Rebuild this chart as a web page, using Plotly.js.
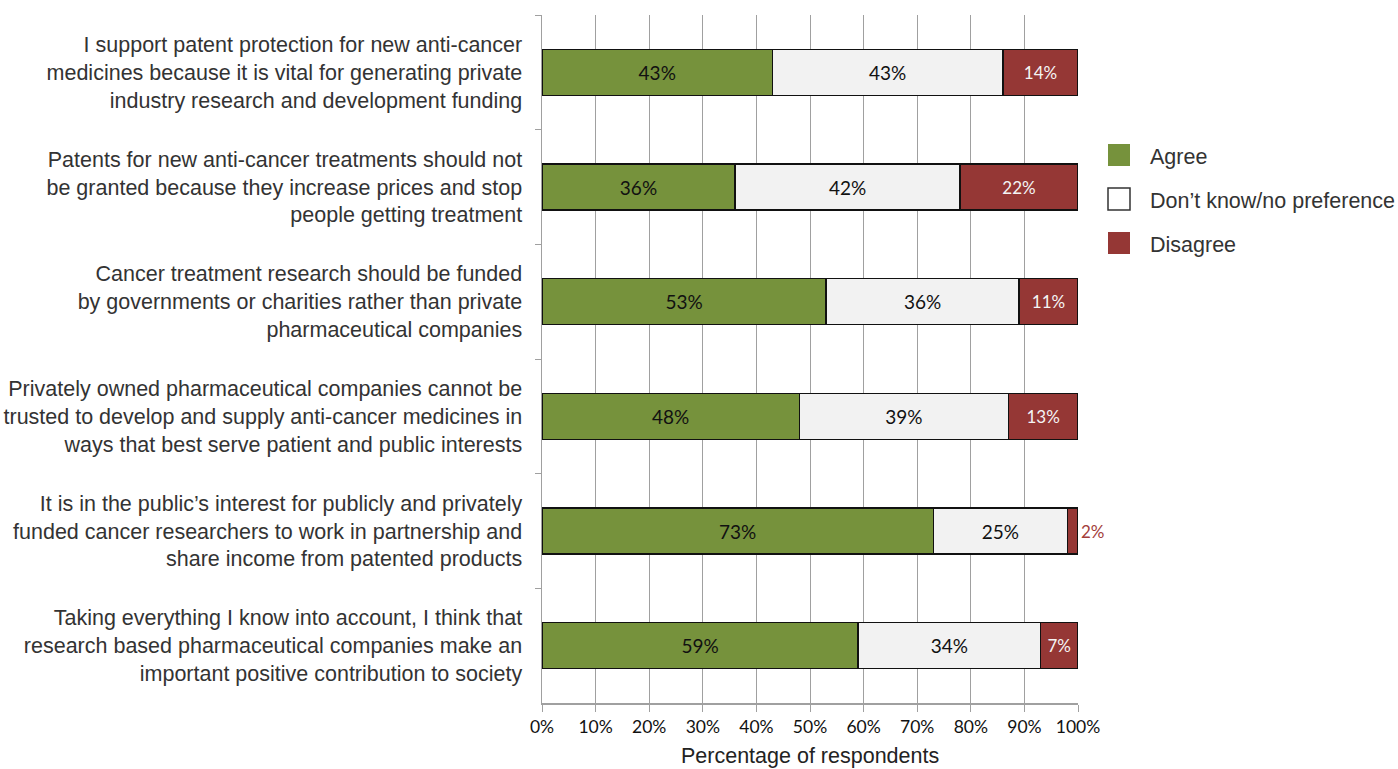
<!DOCTYPE html>
<html><head><meta charset="utf-8">
<script src="https://cdn.plot.ly/plotly-3.0.1.min.js"></script>
<style>body{margin:0;background:#fff}#c{width:1398px;height:769px}</style>
</head><body><div id="c"></div>
<script>
const categories = [
  "I support patent protection for new anti-cancer<br>medicines because it is vital for generating private<br>industry research and development funding",
  "Patents for new anti-cancer treatments should not<br>be granted because they increase prices and stop<br>people getting treatment",
  "Cancer treatment research should be funded<br>by governments or charities rather than private<br>pharmaceutical companies",
  "Privately owned pharmaceutical companies cannot be<br>trusted to develop and supply anti-cancer medicines in<br>ways that best serve patient and public interests",
  "It is in the public\u2019s interest for publicly and privately<br>funded cancer researchers to work in partnership and<br>share income from patented products",
  "Taking everything I know into account, I think that<br>research based pharmaceutical companies make an<br>important positive contribution to society"
];
const agree = [43, 36, 53, 48, 73, 59];
const dontKnow = [43, 42, 36, 39, 25, 34];
const disagree = [14, 22, 11, 13, 2, 7];
const seriesNames = ["Agree", "Don\u2019t know/no preference", "Disagree"];
const xTicks = [0,10,20,30,40,50,60,70,80,90,100];
const xTickLabels = xTicks.map(v => v + "%");
const xTitle = "Percentage of respondents";

const colors = ["#76923C", "#F2F2F2", "#953735"];
const numFont = "Lato, 'Open Sans', sans-serif";
const txtFont = "'Liberation Sans', Arial, sans-serif";
const line = {color: "#111", width: 1.5};

const traces = [
  {type:"bar", orientation:"h", name:seriesNames[0], y:categories, x:agree,
   marker:{color:colors[0], line:line}, text:agree.map(v=>v+"%"), textposition:"inside",
   insidetextanchor:"middle", constraintext:"none", textfont:{family:numFont,size:19,color:"#111"},
   hoverinfo:"skip", showlegend:false, cliponaxis:false},
  {type:"bar", orientation:"h", name:seriesNames[1], y:categories, x:dontKnow,
   marker:{color:colors[1], line:line}, text:dontKnow.map(v=>v+"%"), textposition:"inside",
   insidetextanchor:"middle", constraintext:"none", textfont:{family:numFont,size:19,color:"#111"},
   hoverinfo:"skip", showlegend:false, cliponaxis:false},
  {type:"bar", orientation:"h", name:seriesNames[2], y:categories, x:disagree,
   marker:{color:colors[2], line:line}, text:disagree.map(v=>v+"%"),
   textposition:disagree.map(v => v < 5 ? "outside" : "inside"),
   insidetextanchor:"middle", constraintext:"none",
   textfont:{family:numFont,size:17,color:disagree.map(v => v < 5 ? "#A33E3B" : "#F4F4F4")},
   hoverinfo:"skip", showlegend:false, cliponaxis:false}
];

// manual legend and axis title (pixel -> paper conversion for the plot area)
const PL=542, PR=1078, PT=15, PB=703;
const px2x = p => (p-PL)/(PR-PL);
const py2y = p => (PB-p)/(PB-PT);
const legendCenters = [155, 199, 243];
const shapes = [], annotations = [];
seriesNames.forEach((n,i)=>{
  const c = legendCenters[i];
  shapes.push({type:"rect", xref:"paper", yref:"paper",
    x0:px2x(1108), x1:px2x(1130), y0:py2y(c+11), y1:py2y(c-11),
    fillcolor: i===1 ? "#ffffff" : colors[i],
    line:{color: i===1 ? "#333" : colors[i], width: i===1 ? 1.5 : 0}});
  annotations.push({xref:"paper", yref:"paper", x:px2x(1148), y:py2y(c+2), xanchor:"left", yanchor:"middle",
    text:n, showarrow:false, font:{family:txtFont, size:21.5, color:"#333"}});
});
annotations.push({xref:"paper", yref:"paper", x:0.5, y:py2y(756), xanchor:"center", yanchor:"middle",
  text:xTitle, showarrow:false, font:{family:txtFont, size:21.5, color:"#222"}});

const layout = {
  width:1398, height:769,
  margin:{l:542, r:320, t:15, b:66},
  paper_bgcolor:"#fff", plot_bgcolor:"#fff",
  barmode:"stack", bargap:0.6,
  font:{family:txtFont, color:"#333", size:18},
  xaxis:{range:[0,100], tickvals:xTicks, ticktext:xTickLabels, showgrid:true, gridcolor:"#A0A0A0", gridwidth:1,
    showline:true, linecolor:"#A0A0A0", linewidth:1.5, ticks:"outside", ticklen:7, tickcolor:"#A0A0A0",
    tickfont:{family:numFont, size:17.5, color:"#111"}, zeroline:false, fixedrange:true},
  yaxis:{type:"category", autorange:"reversed", showgrid:false, showline:true, linecolor:"#A0A0A0", linewidth:1.5,
    ticks:"outside", tickson:"boundaries", ticklen:6, tickcolor:"#A0A0A0", ticklabelstandoff:14,
    tickfont:{family:txtFont, size:21.5, color:"#333"}, fixedrange:true},
  shapes:shapes, annotations:annotations,
  showlegend:false
};
Plotly.newPlot("c", traces, layout, {staticPlot:true});
</script></body></html>
